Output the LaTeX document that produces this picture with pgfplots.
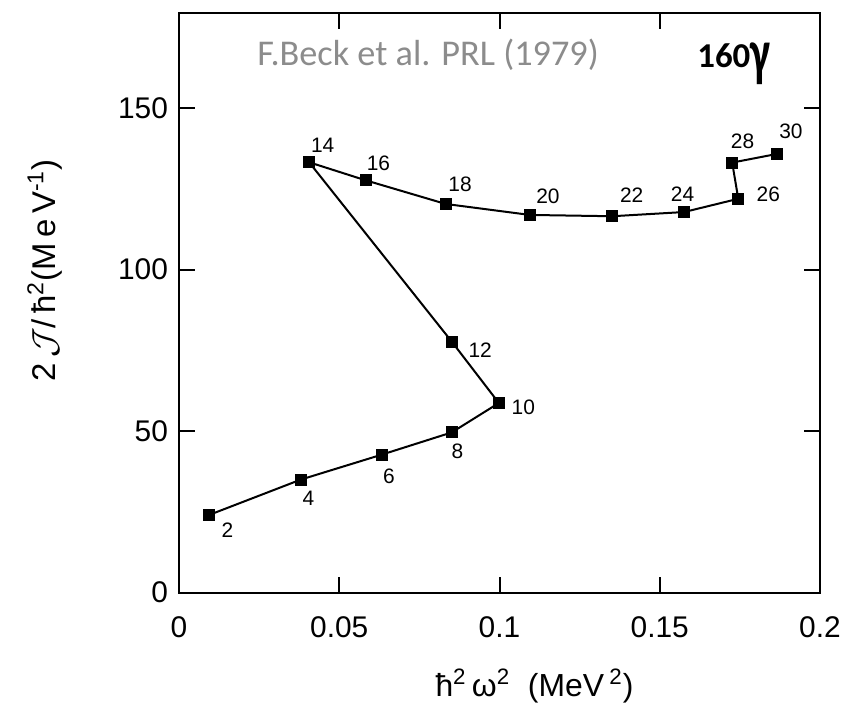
\documentclass[border=0pt]{standalone}
\usepackage{fontspec}
\setmainfont{Liberation Sans}
\newfontfamily\dv{DejaVu Sans}
\newfontfamily\carlito{Carlito}
\usepackage{graphicx}
\usepackage{pgfplots}
\usepackage{pgfplotstable}
\pgfplotsset{compat=1.18}
\definecolor{annot}{RGB}{140,140,140}

\pgfplotstableread{
x y lab dx dy
0.0095 24.1 2 9 -7.5
0.0380 35.0 4 3.8 -9.5
0.0632 42.7 6 3.7 -10.8
0.0851 49.6 8 2.8 -9.5
0.0998 58.7 10 12.2 -2
0.0851 77.7 12 14.2 -4.5
0.0406 133.2 14 6.8 8.3
0.0583 127.6 16 6.3 8.3
0.0832 120.3 18 7.2 10
0.1095 116.9 20 9 9.5
0.1352 116.5 22 9.7 10.3
0.1576 117.8 24 -0.8 8.8
0.1745 121.9 26 15 2
0.1726 133.1 28 5.2 10.5
0.1867 135.8 30 6.8 11.2
}\datatable

\begin{document}
\begin{tikzpicture}
\begin{axis}[
  scale only axis,
  width=320.5bp, height=289.7bp,
  xmin=0, xmax=0.2, ymin=0, ymax=179.3,
  xtick={0,0.05,0.1,0.15,0.2},
  xticklabels={0,0.05,0.1,0.15,0.2},
  scaled x ticks=false,
  ytick={0,50,100,150},
  tick align=inside,
  major tick length=8bp,
  axis line style={line width=1bp},
  every tick/.style={black, line width=1bp},
  /pgf/number format/assume math mode=true,
  tick label style={font=\fontsize{15}{18}\selectfont},
  xticklabel style={yshift=-8.5bp},
  yticklabel style={xshift=-2bp},
  xlabel={ħ\textsuperscript{2}\,ω\textsuperscript{2}\ \ (MeV\,\textsuperscript{2})},
  xlabel style={at={(rel axis cs:0.5546,-0.18)}, anchor=base, font=\fontsize{16}{19}\selectfont},
  ylabel={2\,$\mathcal{J}$/\,ħ\textsuperscript{2}(M\,e\,V\textsuperscript{-1})},
  ylabel style={at={(rel axis cs:-0.209,0.556)}, anchor=center, font=\fontsize{16.5}{19}\selectfont},
  clip=false,
]
\addplot[black, line width=1bp, mark=square*, mark size=2.5bp, mark options={solid}]
  table[x=x, y=y] {\datatable};
\addplot[draw=none, mark=none,
  nodes near coords,
  point meta=explicit symbolic,
  visualization depends on={\thisrow{dx} \as \dx},
  visualization depends on={\thisrow{dy} \as \dy},
  nodes near coords style={anchor=center, xshift=\dx bp, yshift=\dy bp, font=\fontsize{10.5}{12}\selectfont, inner sep=0pt}]
  table[x=x, y=y, meta=lab] {\datatable};
\node[anchor=base west, text=annot, font=\carlito\fontsize{18.2}{21}\selectfont, inner sep=0pt]
  at (axis cs:0.0243,163) {F.Beck et al. PRL (1979)};
\node[anchor=base west, font=\carlito\bfseries\fontsize{17.5}{20}\selectfont, inner sep=0pt]
  at (axis cs:0.1616,162.4) {160\raisebox{-3.5bp}{\scalebox{0.85}[1.3]{\fontsize{25}{28}\selectfont γ}}};
\end{axis}
\pgfresetboundingbox
\path[use as bounding box] ([xshift=-89.5bp,yshift=-57bp]current axis.south west) rectangle ([xshift=13bp,yshift=6.65bp]current axis.north east);
\end{tikzpicture}
\end{document}
